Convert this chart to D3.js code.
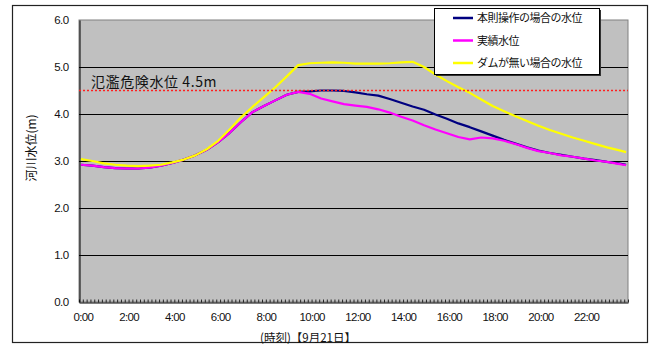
<!DOCTYPE html>
<html>
<head>
<meta charset="utf-8">
<script src="https://cdn.jsdelivr.net/npm/d3@7"></script>
<style>
  html, body { margin: 0; padding: 0; background: #fff; }
  svg { display: block; }
  text { font-family: "Liberation Sans", Arial, sans-serif; }
  .jp { font-family: "Noto Sans CJK JP", "Noto Sans", sans-serif; }
</style>
</head>
<body>
<svg id="chart" width="652" height="345"></svg>
<script>
// Observation times, 30-minute steps (last reading 23:50), 21 September
const times = [
  "0:00","0:30","1:00","1:30","2:00","2:30","3:00","3:30","4:00","4:30",
  "5:00","5:30","6:00","6:30","7:00","7:30","8:00","8:30","9:00","9:30",
  "10:00","10:30","11:00","11:30","12:00","12:30","13:00","13:30","14:00","14:30",
  "15:00","15:30","16:00","16:30","17:00","17:30","18:00","18:30","19:00","19:30",
  "20:00","20:30","21:00","21:30","22:00","22:30","23:00","23:30","23:50"
];

// 本則操作の場合の水位 (m)
const ruleOperation = [
  2.92,2.90,2.87,2.85,2.84,2.84,2.86,2.90,2.96,3.03,
  3.12,3.24,3.40,3.60,3.83,4.04,4.17,4.29,4.41,4.47,
  4.48,4.50,4.50,4.49,4.46,4.42,4.39,4.32,4.24,4.16,
  4.09,3.99,3.90,3.80,3.72,3.63,3.54,3.45,3.37,3.29,
  3.22,3.17,3.13,3.09,3.05,3.02,2.98,2.95,2.92
];

// 実績水位 (m)
const observed = [
  2.92,2.90,2.87,2.85,2.84,2.84,2.86,2.90,2.96,3.03,
  3.12,3.24,3.40,3.60,3.83,4.04,4.17,4.29,4.41,4.47,
  4.43,4.33,4.27,4.21,4.18,4.15,4.10,4.03,3.94,3.86,
  3.76,3.67,3.59,3.51,3.46,3.50,3.48,3.43,3.36,3.28,
  3.21,3.17,3.12,3.09,3.05,3.01,2.98,2.94,2.91
];

// ダムが無い場合の水位 (m)
const withoutDam = [
  3.04,3.00,2.95,2.92,2.90,2.89,2.90,2.92,2.97,3.03,
  3.12,3.25,3.43,3.67,3.93,4.15,4.36,4.57,4.80,5.04,
  5.08,5.09,5.10,5.09,5.07,5.07,5.07,5.08,5.10,5.11,
  5.00,4.84,4.70,4.57,4.45,4.31,4.17,4.06,3.95,3.85,
  3.75,3.66,3.58,3.50,3.43,3.36,3.29,3.23,3.19
];

const seriesNames = ["本則操作の場合の水位", "実績水位", "ダムが無い場合の水位"];
const seriesColors = ["#000080", "#FF00FF", "#FFFF00"];
const seriesValues = [ruleOperation, observed, withoutDam];

const xTickLabels = ["0:00","2:00","4:00","6:00","8:00","10:00","12:00","14:00","16:00","18:00","20:00","22:00"];
const yTicks = [0, 1, 2, 3, 4, 5, 6];

const dangerLevel = 4.5;
const dangerLabel = "氾濫危険水位 4.5m";
const yTitle = "河川水位(m)";
const xTitle = "(時刻)【9月21日】";

const toMin = s => { const [h, m] = s.split(":").map(Number); return h * 60 + m; };

const svg = d3.select("#chart");
const plot = { left: 79, right: 628, top: 20, bottom: 302 };

// 144 ten-minute categories; each reading sits at the centre of its slot
const x = d3.scaleLinear().domain([-5, 1435]).range([plot.left, plot.right]);
const y = d3.scaleLinear().domain([0, 6]).range([plot.bottom, plot.top]);

// outer chart frame
svg.append("rect")
  .attr("x", 12.5).attr("y", 5.5).attr("width", 635).attr("height", 337)
  .attr("fill", "#fff").attr("stroke", "#222").attr("stroke-width", 1.2);

// plot area
svg.append("rect")
  .attr("x", plot.left).attr("y", plot.top)
  .attr("width", plot.right - plot.left).attr("height", plot.bottom - plot.top)
  .attr("fill", "#C0C0C0").attr("stroke", "#808080").attr("stroke-width", 1);

// horizontal gridlines
svg.append("g").selectAll("line")
  .data(yTicks.filter(v => v > 0 && v < 6))
  .join("line")
  .attr("x1", plot.left).attr("x2", plot.right)
  .attr("y1", d => Math.round(y(d)) + 0.5).attr("y2", d => Math.round(y(d)) + 0.5)
  .attr("stroke", "#000").attr("stroke-width", 1);

// y axis
const yAxis = svg.append("g")
  .attr("transform", `translate(${plot.left + 0.5},0)`)
  .call(d3.axisLeft(y).tickValues(yTicks).tickFormat(d3.format(".1f")).tickSize(0).tickPadding(11));
yAxis.select(".domain").attr("stroke", "#000");
yAxis.selectAll("text").attr("font-size", 11.5).attr("fill", "#111")
  .attr("font-family", "'Liberation Sans', Arial, sans-serif").attr("letter-spacing", -0.6);

// x axis: minor ticks at every ten-minute slot boundary, pointing inward
const slotEdges = d3.range(0, 145).map(k => -5 + k * 10);
const minor = svg.append("g")
  .attr("transform", `translate(0,${plot.bottom + 0.5})`)
  .call(d3.axisBottom(x).tickValues(slotEdges).tickFormat("").tickSize(-3).tickSizeOuter(0));
minor.select(".domain").attr("stroke", "#000");
minor.selectAll(".tick line").attr("stroke", "#000").attr("stroke-width", 0.8);

// x axis labels
const xAxis = svg.append("g")
  .attr("transform", `translate(0,${plot.bottom})`)
  .call(d3.axisBottom(x).tickValues(xTickLabels.map(toMin))
    .tickFormat(d => xTickLabels[d / 120]).tickSize(0).tickPadding(11));
xAxis.select(".domain").remove();
xAxis.selectAll("text").attr("font-size", 11.5).attr("fill", "#111")
  .attr("font-family", "'Liberation Sans', Arial, sans-serif").attr("letter-spacing", -0.7)
  .attr("dx", 2);

// axis titles
svg.append("text").attr("class", "jp")
  .attr("transform", `translate(36,148) rotate(-90)`)
  .attr("text-anchor", "middle").attr("font-size", 12).attr("fill", "#111")
  .text(yTitle);
svg.append("text").attr("class", "jp")
  .attr("x", 308).attr("y", 342)
  .attr("text-anchor", "middle").attr("font-size", 11.5).attr("fill", "#111")
  .text(xTitle);

// water-level lines
const line = d3.line()
  .x((d, i) => x(toMin(times[i])))
  .y(d => y(d));

svg.append("g").selectAll("path")
  .data(seriesValues)
  .join("path")
  .attr("d", d => line(d))
  .attr("fill", "none")
  .attr("stroke", (d, i) => seriesColors[i])
  .attr("stroke-width", 2.2)
  .attr("stroke-linejoin", "round");

// flood-danger level
svg.append("line")
  .attr("x1", plot.left).attr("x2", plot.right)
  .attr("y1", y(dangerLevel)).attr("y2", y(dangerLevel))
  .attr("stroke", "#FF2020").attr("stroke-width", 1.6)
  .attr("stroke-dasharray", "2,2");
svg.append("text").attr("class", "jp")
  .attr("x", 91).attr("y", 87)
  .attr("font-size", 14).attr("fill", "#111").attr("letter-spacing", 0.6)
  .text(dangerLabel);

// legend
const lg = { x: 434, y: 8, w: 165, h: 66 };
svg.append("rect")
  .attr("x", lg.x + 2).attr("y", lg.y + 2).attr("width", lg.w).attr("height", lg.h)
  .attr("fill", "#333");
svg.append("rect")
  .attr("x", lg.x + 0.5).attr("y", lg.y + 0.5).attr("width", lg.w).attr("height", lg.h)
  .attr("fill", "#fff").attr("stroke", "#000").attr("stroke-width", 1);
const items = svg.append("g").selectAll("g")
  .data(seriesNames)
  .join("g")
  .attr("transform", (d, i) => `translate(${lg.x},${lg.y + 10 + i * 22.5})`);
items.append("line")
  .attr("x1", 19).attr("x2", 39).attr("y1", 0).attr("y2", 0)
  .attr("stroke", (d, i) => seriesColors[i]).attr("stroke-width", 2.5);
items.append("text").attr("class", "jp")
  .attr("x", 43).attr("y", 4)
  .attr("font-size", 11).attr("fill", "#111").attr("letter-spacing", -0.5)
  .text(d => d);
</script>
</body>
</html>
